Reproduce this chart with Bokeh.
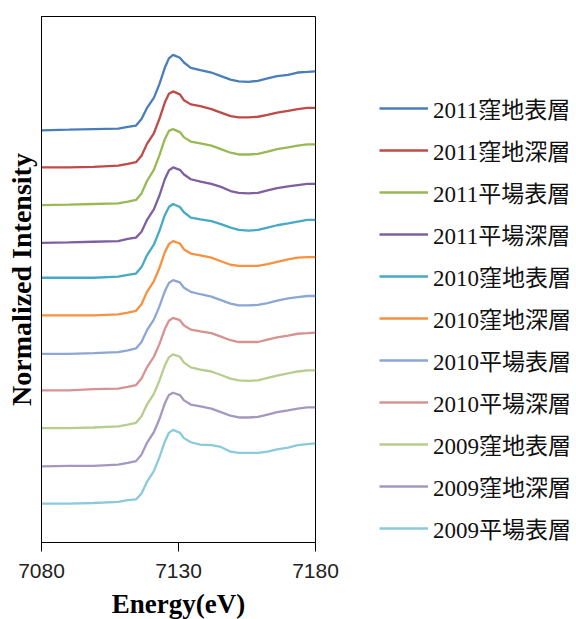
from bokeh.plotting import figure
from bokeh.models import Legend, LegendItem, FixedTicker, Range1d
from bokeh.embed import file_html
from bokeh.resources import INLINE

# ---- data (normalized intensity) ----
energy = [7080, 7090, 7099, 7108, 7111.5, 7114.5, 7116.5, 7118.5, 7121, 7123, 7125,
          7126.5, 7128, 7130.5, 7132, 7134.5, 7138, 7142, 7145.5, 7149, 7152, 7155.5,
          7159, 7162.5, 7166, 7170, 7173.5, 7177, 7180]

labels = ["2011窪地表層", "2011窪地深層", "2011平場表層", "2011平場深層",
          "2010窪地表層", "2010窪地深層", "2010平場表層", "2010平場深層",
          "2009窪地表層", "2009窪地深層", "2009平場表層"]

s2011_kubochi_hyou = [0.00, 0.01, 0.02, 0.03, 0.06, 0.08, 0.19, 0.38, 0.55, 0.78, 1.06, 1.22, 1.28, 1.23, 1.15,
                      1.06, 1.02, 0.98, 0.92, 0.86, 0.83, 0.82, 0.84, 0.88, 0.92, 0.94, 0.98, 0.99, 1.00]
s2011_kubochi_shin = [0.00, 0.00, 0.01, 0.03, 0.06, 0.09, 0.20, 0.40, 0.58, 0.82, 1.10, 1.25, 1.29, 1.24, 1.14,
                      1.07, 1.04, 0.99, 0.93, 0.87, 0.85, 0.85, 0.86, 0.89, 0.93, 0.96, 0.99, 1.01, 1.01]
s2011_hiraba_hyou = [0.00, 0.01, 0.02, 0.03, 0.06, 0.09, 0.20, 0.41, 0.60, 0.84, 1.12, 1.26, 1.29, 1.24, 1.15,
                     1.08, 1.05, 1.01, 0.95, 0.89, 0.86, 0.86, 0.87, 0.91, 0.95, 0.98, 1.01, 1.03, 1.03]
s2011_hiraba_shin = [0.00, 0.01, 0.02, 0.03, 0.07, 0.09, 0.19, 0.39, 0.57, 0.80, 1.08, 1.23, 1.28, 1.24, 1.16,
                     1.08, 1.04, 1.00, 0.95, 0.88, 0.85, 0.84, 0.85, 0.89, 0.93, 0.96, 0.98, 1.00, 1.00]
s2010_kubochi_hyou = [0.00, 0.00, 0.00, 0.02, 0.05, 0.07, 0.18, 0.38, 0.56, 0.79, 1.06, 1.20, 1.25, 1.20, 1.11,
                      1.02, 0.99, 0.96, 0.91, 0.85, 0.81, 0.80, 0.81, 0.85, 0.89, 0.92, 0.95, 0.98, 0.98]
s2010_kubochi_shin = [0.00, 0.00, 0.00, 0.02, 0.05, 0.08, 0.19, 0.40, 0.58, 0.80, 1.07, 1.21, 1.26, 1.22, 1.12,
                      1.05, 1.02, 0.98, 0.92, 0.86, 0.84, 0.84, 0.84, 0.87, 0.91, 0.95, 0.98, 0.99, 0.99]
s2010_hiraba_hyou = [0.00, 0.00, 0.01, 0.03, 0.06, 0.09, 0.20, 0.40, 0.58, 0.80, 1.06, 1.20, 1.25, 1.21, 1.12,
                     1.05, 1.01, 0.97, 0.91, 0.85, 0.82, 0.82, 0.83, 0.86, 0.90, 0.94, 0.96, 0.98, 0.98]
s2010_hiraba_shin = [0.00, 0.00, 0.02, 0.03, 0.06, 0.09, 0.20, 0.39, 0.57, 0.78, 1.04, 1.18, 1.23, 1.19, 1.10,
                     1.03, 1.00, 0.97, 0.91, 0.85, 0.82, 0.82, 0.82, 0.86, 0.90, 0.93, 0.96, 0.97, 0.98]
s2009_kubochi_hyou = [0.00, 0.00, 0.01, 0.03, 0.06, 0.09, 0.20, 0.40, 0.58, 0.80, 1.06, 1.20, 1.25, 1.21, 1.11,
                      1.03, 0.99, 0.96, 0.90, 0.84, 0.81, 0.80, 0.81, 0.85, 0.89, 0.93, 0.96, 0.98, 0.98]
s2009_kubochi_shin = [0.00, 0.01, 0.01, 0.03, 0.06, 0.09, 0.20, 0.40, 0.58, 0.80, 1.07, 1.21, 1.25, 1.21, 1.12,
                      1.05, 1.02, 0.98, 0.92, 0.86, 0.83, 0.83, 0.84, 0.88, 0.92, 0.95, 0.98, 1.00, 1.00]
s2009_hiraba_hyou = [0.00, 0.00, 0.01, 0.03, 0.06, 0.07, 0.17, 0.37, 0.55, 0.78, 1.05, 1.20, 1.25, 1.20, 1.11,
                     1.04, 1.00, 0.99, 0.96, 0.88, 0.86, 0.86, 0.86, 0.88, 0.92, 0.95, 0.99, 1.01, 1.02]

# vertical offsets of the stacked spectra
offsets = [6.99, 6.36, 5.72, 5.08, 4.49, 3.85, 3.20, 2.58, 1.94, 1.29, 0.66]

x_ticks = [7080, 7130, 7180]

series = [s2011_kubochi_hyou, s2011_kubochi_shin, s2011_hiraba_hyou, s2011_hiraba_shin,
          s2010_kubochi_hyou, s2010_kubochi_shin, s2010_hiraba_hyou, s2010_hiraba_shin,
          s2009_kubochi_hyou, s2009_kubochi_shin, s2009_hiraba_hyou]

colors = ["#4A7EBB", "#BE4B48", "#98B954", "#7D60A0", "#46AAC5", "#F69240",
          "#8DA7D5", "#D69391", "#B6CD8F", "#A598C0", "#8ACADB"]

# ---- figure ----
p = figure(frame_width=274, frame_height=526, output_backend="svg", toolbar_location=None,
           x_range=Range1d(7080, 7180), y_range=Range1d(0, 8.92),
           min_border_left=41, min_border_top=16, min_border_right=261, min_border_bottom=0)
p.background_fill_color = "white"
p.border_fill_color = "white"
p.outline_line_color = "black"
p.outline_line_width = 1
p.xgrid.visible = False
p.ygrid.visible = False

items = []
for vals, off, col, lab in zip(series, offsets, colors, labels):
    ys = [v + off for v in vals]
    r = p.line(energy, ys, line_color=col, line_width=2.3)
    items.append(LegendItem(label=lab, renderers=[r]))

# x axis
p.xaxis.ticker = FixedTicker(ticks=x_ticks)
p.xaxis.minor_tick_line_color = None
p.xaxis.major_tick_in = 0
p.xaxis.major_tick_out = 9
p.xaxis.major_tick_line_color = "black"
p.xaxis.axis_line_color = "black"
p.xaxis.major_label_text_font = "Liberation Sans"
p.xaxis.major_label_text_font_size = "21px"
p.xaxis.major_label_text_color = "#222222"
p.xaxis.major_label_standoff = 12
p.xaxis.axis_label = "Energy(eV)"
p.xaxis.axis_label_text_font = "Liberation Serif"
p.xaxis.axis_label_text_font_style = "bold"
p.xaxis.axis_label_text_font_size = "27px"
p.xaxis.axis_label_text_color = "black"
p.xaxis.axis_label_standoff = 8

# y axis
p.yaxis.ticker = FixedTicker(ticks=[])
p.yaxis.major_tick_line_color = None
p.yaxis.minor_tick_line_color = None
p.yaxis.major_label_text_font_size = "0px"
p.yaxis.axis_line_color = "black"
p.yaxis.axis_label = "Normalized Intensity"
p.yaxis.axis_label_text_font = "Liberation Serif"
p.yaxis.axis_label_text_font_style = "bold"
p.yaxis.axis_label_text_font_size = "28px"
p.yaxis.axis_label_text_color = "black"
p.yaxis.axis_label_standoff = 5

legend = Legend(items=items, location=(64, -3), orientation="vertical",
                label_text_font="'Liberation Serif', 'Noto Sans CJK JP'",
                label_text_font_size="23px", label_text_color="#111111",
                glyph_width=49, glyph_height=22, label_height=22, spacing=8,
                label_standoff=5, padding=0, margin=0,
                border_line_alpha=0, background_fill_alpha=0)
p.add_layout(legend, "right")

open("out.html", "w").write(file_html(p, INLINE))
